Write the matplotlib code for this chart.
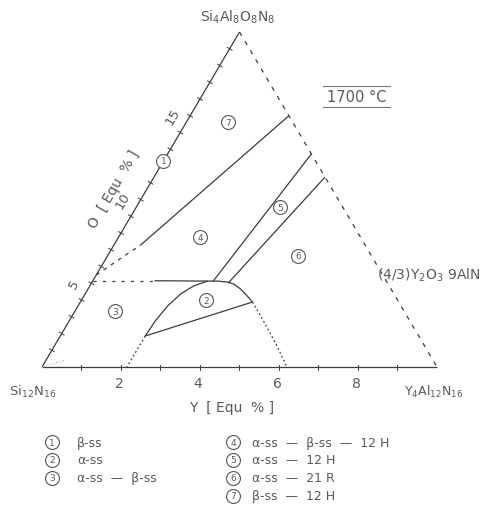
import numpy as np
import matplotlib.pyplot as plt

# Y [Equ %] runs along the base (0..10), O [Equ %] up the left side (0..20)
y_ticks = [2, 4, 6, 8]
o_ticks = [5, 10, 15]
y_minor = [1, 2, 3, 4, 5, 6, 7, 8, 9]
o_minor = list(range(1, 20))

# phase boundaries as (Y, O) pairs
tri_right_y = [0, 10]
tri_right_o = [20, 0]

b74_dash_y = [0.0, 0.68]
b74_dash_o = [5.5, 7.3]
b74_y = [0.68, 2.5]
b74_o = [7.3, 15.0]

b34_dash_y = [0.0, 1.56]
b34_dash_o = [5.15, 5.15]
b34_y = [1.56, 2.91]
b34_o = [5.15, 5.13]

dome_y = [2.15, 2.18, 2.27, 2.42, 2.63, 2.91, 3.16, 3.43, 3.61, 3.86, 4.06, 4.36]
dome_o = [1.85, 2.75, 3.64, 4.36, 4.84, 5.13, 5.13, 5.07, 4.96, 4.66, 4.36, 3.88]
dome_right_y = [4.36, 4.92, 5.64, 6.2]
dome_right_o = [3.88, 2.75, 1.25, 0.0]
dome_left_y = [2.15, 2.15]
dome_left_o = [1.85, 0.0]

tie_y = [2.15, 4.36]
tie_o = [1.85, 3.88]

b45_y = [3.05, 3.64]
b45_o = [5.1, 12.72]
b56_y = [3.46, 4.33]
b56_o = [5.0, 11.34]

corner_y = [0.0, 0.48]
corner_o = [0.0, 0.42]

# circled region numbers
region_num = ['1', '2', '3', '4', '5', '6', '7']
region_y = [0.0, 3.16, 1.02, 2.06, 3.64, 4.82, 1.05]
region_o = [12.3, 4.0, 3.34, 7.76, 9.55, 6.63, 14.6]

legend_left = ['β-ss', 'α-ss', 'α-ss  —  β-ss']
legend_right = ['α-ss  —  β-ss  —  12 H', 'α-ss  —  12 H', 'α-ss  —  21 R', 'β-ss  —  12 H']

W, H = 482, 506
LC = '#3c3c3c'
TC = '#5a5a5a'


def to_xy(yv, ov):
    yv = np.asarray(yv, float)
    ov = np.asarray(ov, float)
    return yv + ov / 4, ov * np.sqrt(3) / 4


def px(x, y):
    # pixel position -> figure fraction, for the loose text
    return x / W, 1 - y / H


fig = plt.figure(figsize=(W / 100, H / 100), dpi=100)
ax = fig.add_axes([0, 0, 1, 1])
ax.set_xlim(-42 / 39.5, (W - 42) / 39.5)
ax.set_ylim(-(H - 368) / 38.68, 368 / 38.68)
ax.axis('off')


def line(yv, ov, **kw):
    x, y = to_xy(yv, ov)
    kw.setdefault('color', LC)
    kw.setdefault('lw', 0.9)
    ax.plot(x, y, solid_capstyle='butt', solid_joinstyle='round', **kw)


# triangle edges
line([0, 10], [0, 0])
line([0, 0], [0, 20])
line(tri_right_y, tri_right_o, ls=(0, (3.5, 5)))

# tick marks
for o in o_minor:
    x, y = to_xy(0, o)
    ax.plot([x - 0.06, x + 0.06], [y + 0.035, y - 0.035], color=LC, lw=0.7)
for yv in y_minor:
    x, y = to_xy(yv, 0)
    ax.plot([x, x], [0.04, -0.09], color=LC, lw=0.7)

# boundaries
line(b74_dash_y, b74_dash_o, ls=(0, (3, 4)))
line(b74_y, b74_o)
line(b34_dash_y, b34_dash_o, ls=(0, (2.5, 5)))
line(b34_y, b34_o)
line(dome_y, dome_o)
line(dome_right_y, dome_right_o, ls=(0, (1.5, 2)))
line(dome_left_y, dome_left_o, ls=(0, (1.5, 2)))
line(tie_y, tie_o)
line(b45_y, b45_o)
line(b56_y, b56_o)
line(corner_y, corner_o, color='#aaaaaa', lw=0.7, ls=(0, (1, 1.5)))

# region markers
rx, ry = to_xy(region_y, region_o)
for n, x, y in zip(region_num, rx, ry):
    ax.plot(x, y, 'o', ms=10, mfc='white', mec='#555555', mew=0.8, zorder=5)
    ax.text(x, y, n, ha='center', va='center', fontsize=6.5, color=TC, zorder=6)

# base tick labels
for t in y_ticks:
    x, _ = to_xy(t, 0)
    ax.text(x - 0.05, -0.42, str(t), ha='center', va='center', fontsize=10, color=TC)

# left side tick labels
for t in o_ticks:
    x, y = to_xy(0, t)
    ax.text(x - 0.45, y, str(t), ha='center', va='center', fontsize=9.5,
            color=TC, rotation=60)

# corner and axis labels
fig.text(*px(238, 17), 'Si$_4$Al$_8$O$_8$N$_8$', ha='center', va='center', fontsize=10, color=TC)
fig.text(*px(33, 392), 'Si$_{12}$N$_{16}$', ha='center', va='center', fontsize=9.5, color=TC)
fig.text(*px(434, 392), 'Y$_4$Al$_{12}$N$_{16}$', ha='center', va='center', fontsize=9, color=TC)
fig.text(*px(377, 275), '(4/3)Y$_2$O$_3$ 9AlN', ha='left', va='center', fontsize=10, color=TC)
fig.text(*px(232, 408), 'Y  [ Equ  % ]', ha='center', va='center', fontsize=10, color=TC)
fig.text(*px(114, 190), 'O  [ Equ  % ]', ha='center', va='center', fontsize=10, color=TC,
         rotation=60)

# temperature box
fig.text(*px(357, 98), '1700 °C', ha='center', va='center', fontsize=10.5, color=TC)
for yy in (87, 108):
    x0, y0 = px(323, yy)
    x1, _ = px(390, yy)
    fig.add_artist(plt.Line2D([x0, x1], [y0, y0], color='#777777', lw=0.8))

# legend
rows = [443, 461, 479, 497]
for i, s in enumerate(legend_left):
    cx, cy = px(52, rows[i])
    fig.add_artist(plt.Line2D([cx], [cy], marker='o', ms=10, mfc='white', mec='#555555', mew=0.8))
    fig.text(cx, cy, str(i + 1), ha='center', va='center', fontsize=6.5, color=TC)
    fig.text(*px(77, rows[i]), s, ha='left', va='center', fontsize=9, color=TC)
for i, s in enumerate(legend_right):
    cx, cy = px(233, rows[i])
    fig.add_artist(plt.Line2D([cx], [cy], marker='o', ms=10, mfc='white', mec='#555555', mew=0.8))
    fig.text(cx, cy, str(i + 4), ha='center', va='center', fontsize=6.5, color=TC)
    fig.text(*px(252, rows[i]), s, ha='left', va='center', fontsize=9, color=TC)

fig.savefig('out.png', dpi=100)
